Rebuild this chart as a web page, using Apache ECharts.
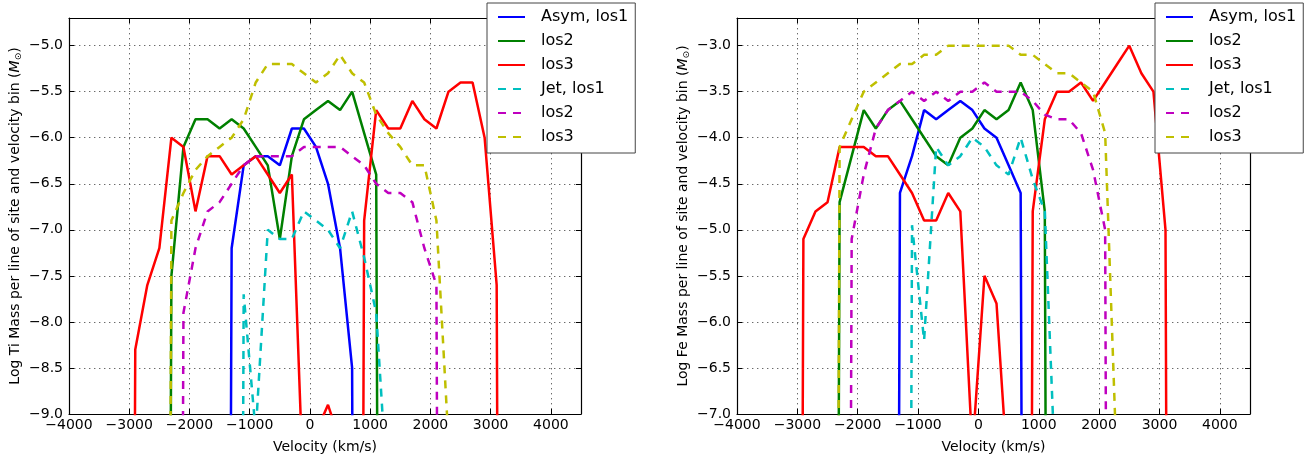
<!DOCTYPE html>
<html>
<head>
<meta charset="utf-8">
<title>Ti and Fe mass per velocity bin</title>
<script src="https://cdn.jsdelivr.net/npm/echarts@6/dist/echarts.min.js"></script>
<style>
  html, body { margin: 0; padding: 0; background: #fff; }
  #chart { width: 1310px; height: 459px; }
</style>
</head>
<body>
<div id="chart"></div>
<script>
// velocity bin centres, km/s
const velocity = [-3100, -2900, -2700, -2500, -2300, -2100, -1900, -1700, -1500, -1300, -1100,
  -900, -700, -500, -300, -100, 100, 300, 500, 700, 900, 1100, 1300, 1500, 1700, 1900, 2100,
  2300, 2500, 2700, 2900, 3100, 3300];

// Ti, log mass per bin (very low values = empty bins that drop off the plot)
const tiAsymLos1 = [null, null, null, null, null, null, null, null, -40, -7.2, -6.3, -6.2, -6.2, -6.3, -5.9, -5.9, -6.1, -6.5, -7.2, -8.5, -40, null, null, null, null, null, null, null, null, null, null, null, null];
const tiAsymLos2 = [null, null, null, -40, -7.5, -6.1, -5.8, -5.8, -5.9, -5.8, -5.9, -6.1, -6.3, -7.1, -6.2, -5.8, -5.7, -5.6, -5.7, -5.5, -5.95, -6.4, -40, null, null, null, null, null, null, null, null, null, null];
const tiAsymLos3 = [-40, -8.3, -7.6, -7.2, -6.0, -6.1, -6.8, -6.2, -6.2, -6.4, -6.3, -6.2, -6.4, -6.6, -6.4, -10, -9.2, -8.9, -9.3, -40, -6.9, -5.7, -5.9, -5.9, -5.6, -5.8, -5.9, -5.5, -5.4, -5.4, -6.0, -7.6, -40];
const tiJetLos1 = [null, null, null, null, null, null, null, null, null, -40, -7.7, -9.2, -7.0, -7.1, -7.1, -6.8, -6.9, -7.0, -7.2, -6.8, -7.3, -7.9, -10, null, null, null, null, null, null, null, null, null, null];
const tiJetLos2 = [null, null, null, null, -40, -7.9, -7.2, -6.8, -6.7, -6.5, -6.3, -6.2, -6.2, -6.2, -6.2, -6.1, -6.1, -6.1, -6.1, -6.2, -6.3, -6.5, -6.6, -6.6, -6.7, -7.2, -7.6, -40, null, null, null, null, null];
const tiJetLos3 = [null, null, null, -40, -6.9, -6.6, -6.35, -6.2, -6.1, -6.0, -5.8, -5.4, -5.2, -5.2, -5.2, -5.3, -5.4, -5.3, -5.1, -5.3, -5.4, -5.75, -5.95, -6.1, -6.3, -6.3, -6.9, -9.3, null, null, null, null, null];

// Fe, log mass per bin
const feAsymLos1 = [null, null, null, null, null, null, null, null, -40, -4.6, -4.2, -3.7, -3.8, -3.7, -3.6, -3.7, -3.9, -4.0, -4.3, -4.6, -40, null, null, null, null, null, null, null, null, null, null, null, null];
const feAsymLos2 = [null, null, null, -40, -4.7, -4.2, -3.7, -3.9, -3.7, -3.6, -3.8, -4.0, -4.2, -4.3, -4.0, -3.9, -3.7, -3.8, -3.7, -3.4, -3.7, -4.8, -40, null, null, null, null, null, null, null, null, null, null];
const feAsymLos3 = [-40, -5.1, -4.8, -4.7, -4.1, -4.1, -4.1, -4.2, -4.2, -4.4, -4.6, -4.9, -4.9, -4.6, -4.8, -7.4, -5.5, -5.8, -7.8, -40, -4.8, -3.8, -3.5, -3.5, -3.4, -3.6, -3.4, -3.2, -3.0, -3.3, -3.5, -5.0, -40];
const feJetLos1 = [null, null, null, null, null, null, null, null, null, -40, -4.95, -6.2, -4.1, -4.3, -4.2, -4.0, -4.1, -4.3, -4.4, -4.0, -4.45, -4.8, -8.1, null, null, null, null, null, null, null, null, null, null];
const feJetLos2 = [null, null, null, null, -40, -5.1, -4.4, -3.9, -3.7, -3.6, -3.5, -3.6, -3.5, -3.6, -3.5, -3.5, -3.4, -3.5, -3.5, -3.5, -3.6, -3.75, -3.8, -3.8, -3.95, -4.35, -5.0, -40, null, null, null, null, null];
const feJetLos3 = [null, null, null, -40, -4.1, -3.8, -3.5, -3.4, -3.3, -3.2, -3.2, -3.1, -3.1, -3.0, -3.0, -3.0, -3.0, -3.0, -3.0, -3.1, -3.1, -3.2, -3.3, -3.3, -3.4, -3.5, -3.95, -7.7, null, null, null, null, null];

// legend labels (series ids must be unique, the labels repeat)
const legendLabels = ['Asym, los1', 'los2', 'los3', 'Jet, los1', 'los2', 'los3'];

const FONT = 'DejaVu Sans';
const colors = ['#0000ff', '#008000', '#ff0000', '#00bfbf', '#bf00bf', '#bfbf00'];

const chart = echarts.init(document.getElementById('chart'));

function minusFmt(digits) {
  return function (v) {
    const s = Math.abs(v).toFixed(digits);
    return v < 0 ? '\u2212' + s : s;
  };
}

function makeSeries(id, values, idx, axis) {
  const dashed = idx >= 3;
  return {
    name: id,
    type: 'line',
    xAxisIndex: axis,
    yAxisIndex: axis,
    data: velocity.map((v, i) => [v, values[i]]),
    symbol: 'none',
    clip: true,
    lineStyle: { color: colors[idx], width: 2.5, type: dashed ? [8, 7] : 'solid' },
    itemStyle: { color: colors[idx] },
    emphasis: { disabled: true }
  };
}

const tiIds = ['ti0', 'ti1', 'ti2', 'ti3', 'ti4', 'ti5'];
const feIds = ['fe0', 'fe1', 'fe2', 'fe3', 'fe4', 'fe5'];
const tiData = [tiAsymLos1, tiAsymLos2, tiAsymLos3, tiJetLos1, tiJetLos2, tiJetLos3];
const feData = [feAsymLos1, feAsymLos2, feAsymLos3, feJetLos1, feJetLos2, feJetLos3];

function mainX(grid) {
  return {
    gridIndex: grid, type: 'value', position: 'bottom',
    min: -4000, max: 4500, interval: 1000,
    name: 'Velocity (km/s)', nameLocation: 'middle', nameGap: 26,
    nameTextStyle: { fontFamily: FONT, fontSize: 14, color: '#000' },
    axisLine: { onZero: false, lineStyle: { color: '#000', width: 1.2 } },
    axisTick: { inside: true, length: 5, lineStyle: { color: '#000' } },
    axisLabel: { fontFamily: FONT, fontSize: 14, color: '#000', margin: 4, showMaxLabel: false, formatter: minusFmt(0) },
    splitLine: { show: true, lineStyle: { color: '#444', width: 0.8, type: [1.4, 3.6] } }
  };
}
function topX(grid) {
  return {
    gridIndex: grid, type: 'value', position: 'top',
    min: -4000, max: 4500, interval: 1000,
    axisLine: { onZero: false, lineStyle: { color: '#000', width: 1.2 } },
    axisTick: { inside: true, length: 5, lineStyle: { color: '#000' } },
    axisLabel: { show: false }, splitLine: { show: false }
  };
}
function mainY(grid, min, max, label) {
  return {
    gridIndex: grid, type: 'value', position: 'left',
    min: min, max: max, interval: 0.5,
    name: label, nameLocation: 'middle', nameGap: 46,
    nameTextStyle: {
      fontFamily: FONT, fontSize: 14, color: '#000',
      rich: {
        it: { fontFamily: FONT, fontSize: 14, fontStyle: 'italic', color: '#000' },
        sub: { fontFamily: FONT, fontSize: 9, color: '#000', padding: [6, 0, 0, 0] }
      }
    },
    axisLine: { onZero: false, lineStyle: { color: '#000', width: 1.2 } },
    axisTick: { inside: true, length: 5, lineStyle: { color: '#000' } },
    axisLabel: { fontFamily: FONT, fontSize: 14, color: '#000', margin: 6, showMaxLabel: false, formatter: minusFmt(1) },
    splitLine: { show: true, lineStyle: { color: '#444', width: 0.8, type: [1.4, 3.6] } }
  };
}
function rightY(grid, min, max) {
  return {
    gridIndex: grid, type: 'value', position: 'right',
    min: min, max: max, interval: 0.5,
    axisLine: { onZero: false, lineStyle: { color: '#000', width: 1.2 } },
    axisTick: { inside: true, length: 5, lineStyle: { color: '#000' } },
    axisLabel: { show: false }, splitLine: { show: false }
  };
}
function makeLegend(left, ids) {
  return {
    data: ids,
    orient: 'vertical',
    left: left, top: 3,
    padding: [6, 7, 8, 10],
    itemWidth: 27, itemHeight: 16, itemGap: 8,
    backgroundColor: '#fff',
    borderColor: '#444', borderWidth: 1, borderRadius: 0,
    selectedMode: false,
    itemStyle: { opacity: 0 },
    textStyle: { fontFamily: FONT, fontSize: 16, lineHeight: 16, color: '#000', padding: [0, 0, 0, 11] },
    formatter: function (name) { return legendLabels[ids.indexOf(name)]; }
  };
}

const option = {
  animation: false,
  backgroundColor: '#fff',
  grid: [
    { left: 69, top: 18, width: 512, height: 396, outerBoundsMode: 'none' },
    { left: 737, top: 18, width: 513, height: 396, outerBoundsMode: 'none' }
  ],
  xAxis: [mainX(0), topX(0), mainX(1), topX(1)],
  yAxis: [
    mainY(0, -9, -4.7, 'Log Ti Mass per line of site and velocity bin ({it|M}{sub|\u2299})'),
    rightY(0, -9, -4.7),
    mainY(1, -7, -2.7, 'Log Fe Mass per line of site and velocity bin ({it|M}{sub|\u2299})'),
    rightY(1, -7, -2.7)
  ],
  legend: [makeLegend(487, tiIds), makeLegend(1155, feIds)],
  series: tiData.map((d, i) => makeSeries(tiIds[i], d, i, 0))
    .concat(feData.map((d, i) => makeSeries(feIds[i], d, i, 2)))
};

// the second pair of x axes belongs to the right panel
option.xAxis[2].gridIndex = 1;
option.xAxis[3].gridIndex = 1;

chart.setOption(option);
</script>
</body>
</html>
